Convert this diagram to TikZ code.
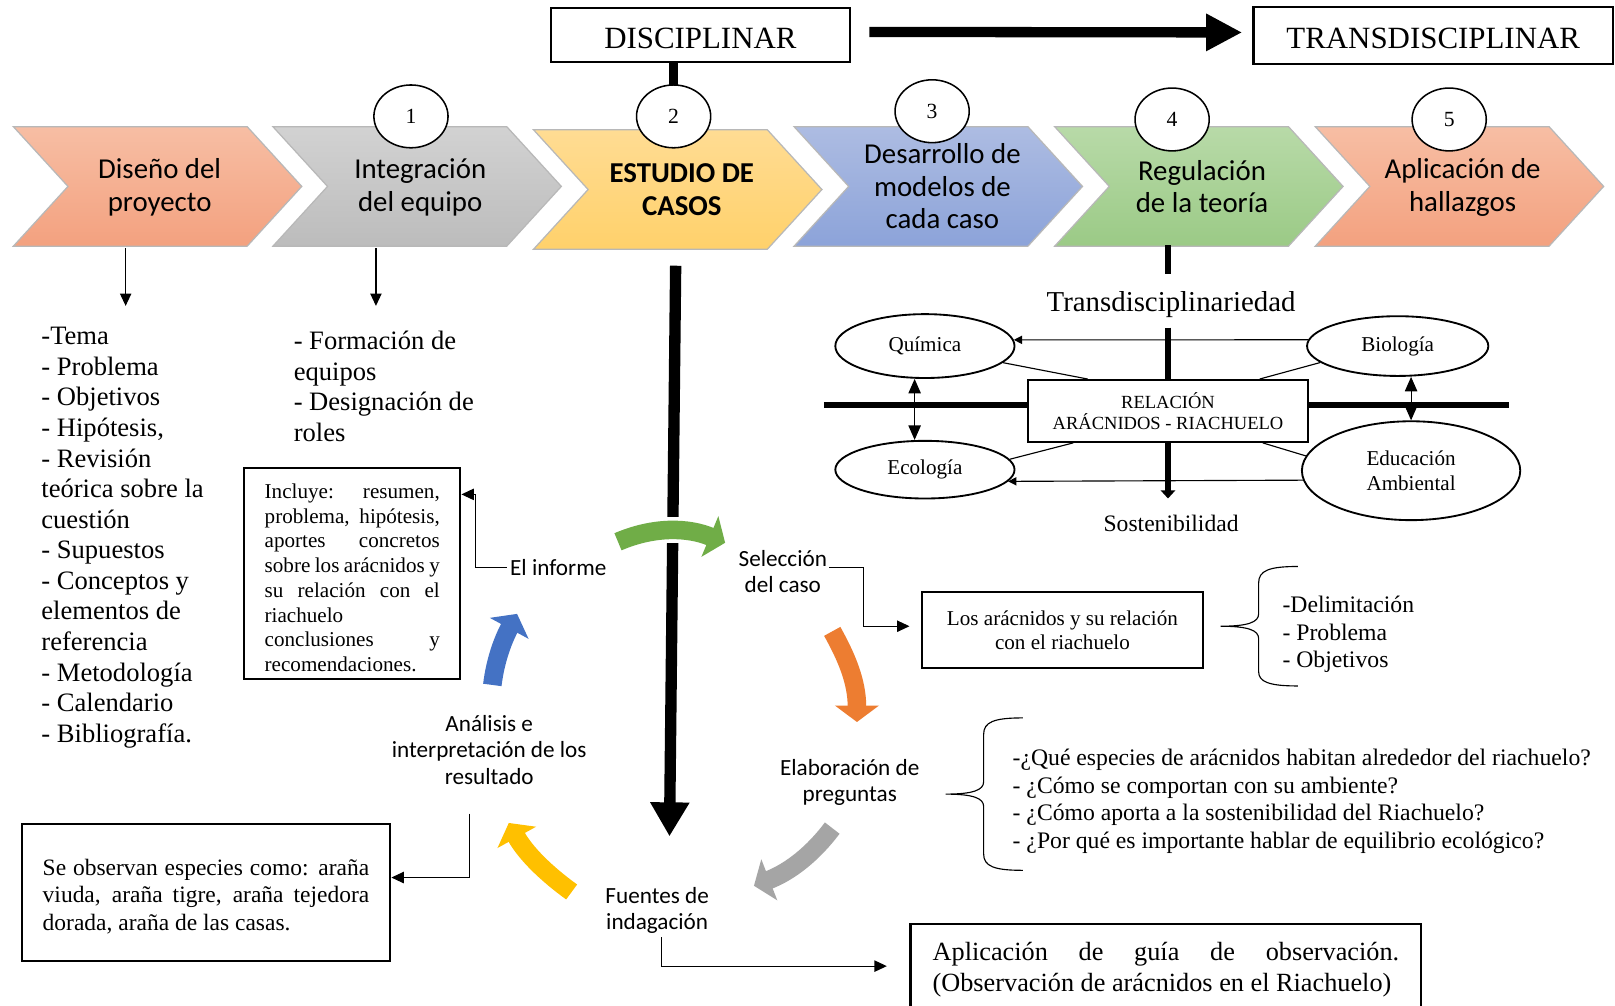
\documentclass[tikz,border=0pt]{standalone}
\usepackage{fontspec}
\setmainfont{Liberation Serif}
\newfontfamily\calfont{Carlito}
\usetikzlibrary{arrows.meta,shapes.geometric,calc}

\newcommand{\fsz}[2]{\fontsize{#1}{#2}\selectfont}
\newcommand{\spread}[2]{\makebox[#1][s]{#2}}

\definecolor{salT}{HTML}{F7BEA4}
\definecolor{salB}{HTML}{F3A17F}
\definecolor{gryT}{HTML}{D2D2D2}
\definecolor{gryB}{HTML}{BCBCBC}
\definecolor{ylwT}{HTML}{FFDC93}
\definecolor{ylwB}{HTML}{FFD16B}
\definecolor{bluT}{HTML}{ADBCE2}
\definecolor{bluB}{HTML}{8CA3D9}
\definecolor{grnT}{HTML}{B8DAA8}
\definecolor{grnB}{HTML}{9BCA86}
\definecolor{cgreen}{HTML}{70AD47}
\definecolor{corange}{HTML}{ED7D31}
\definecolor{cgray}{HTML}{A5A5A5}
\definecolor{cyellow}{HTML}{FFC000}
\definecolor{cblue}{HTML}{4472C4}

% one step of the process: a chevron at horizontal position #1, shifted down by #2
\newcommand{\chevron}[4]{%
  \path[draw=black!28, line width=1.2pt, top color=#3, bottom color=#4]
    (#1,123+#2) -- ++(227,0) -- ++(53,58) -- ++(-53,58) -- ++(-227,0) -- ++(53,-58) -- cycle;}

\begin{document}
\begin{tikzpicture}[x=1pt,y=-1pt,
  chevtext/.style={font=\calfont\fsz{28}{31.5}, align=center, inner sep=0},
  numcirc/.style={draw, line width=1.5pt, fill=white, ellipse, minimum width=72pt,
                  minimum height=61pt, inner sep=0, font=\fsz{21}{24}},
  labelc/.style={font=\calfont\fsz{22.5}{25.5}, align=center, inner sep=0},
  serifl/.style={font=\fsz{25.8}{29.7}, align=left, inner sep=0},
  box/.style={draw, line width=2pt, fill=white, inner sep=0},
  headbox/.style={box, font=\fsz{30}{32}, text height=26pt, text depth=0pt},
  thinarrow/.style={line width=1.1pt, -{Triangle[length=12pt,width=11pt]}},
  thinline/.style={line width=1.1pt},
  bigarrow/.style={line width=18pt, -{Triangle[length=16pt,width=42pt]}},
  clell/.style={draw, line width=1.8pt, ellipse, fill=white, inner sep=0,
                font=\fsz{20.5}{24}, align=center},
  smalltip/.style={-{Triangle[length=8pt,width=8pt]}},
  dbltip/.style={{Triangle[length=14pt,width=12pt]}-{Triangle[length=14pt,width=12pt]}}
]
\useasboundingbox (0,0) rectangle (1568,976);
\fill[white] (0,0) rectangle (1568,976);

% ---- header: disciplinary -> transdisciplinary
\node[headbox, minimum width=290pt, minimum height=52pt] (disc) at (680,34) {DISCIPLINAR};
\node[headbox, minimum width=349pt, minimum height=55pt] (trans) at (1391.5,34.5) {TRANSDISCIPLINAR};
\draw[line width=10pt, -{Triangle[length=35pt,width=34pt]}] ([xshift=18pt,yshift=3pt]disc.east) -- ([xshift=-10pt,yshift=3pt]trans.west);

% ---- process chevrons
\chevron{13}{0}{salT}{salB}
\chevron{265}{0}{gryT}{gryB}
\chevron{518}{3}{ylwT}{ylwB}
\chevron{771}{0}{bluT}{bluB}
\chevron{1024}{0}{grnT}{grnB}
\chevron{1277}{0}{salT}{salB}

\node[chevtext] (ch1) at (155,182) {Diseño del\\proyecto};
\node[chevtext] (ch2) at (408,182) {Integración\\del equipo};
\node[chevtext, font=\calfont\bfseries\fsz{28}{31.5}] (ch3) at (662,184) {ESTUDIO DE\\CASOS};
\node[chevtext] (ch4) at (915,181) {Desarrollo de\\modelos de\\cada caso};
\node[chevtext] (ch5) at (1167,181) {Regulación\\de la teoría};
\node[chevtext] (ch6) at (1420,182) {Aplicación de\\hallazgos};

\coordinate (c2top) at (654,100);
\draw[line width=9pt] (disc.south -| c2top) -- (c2top);

\node[numcirc] (n1) at (399,113) {1};
\node[numcirc] (n2) at (654,113) {2};
\node[numcirc] (n3) at (905,108) {3};
\node[numcirc] (n4) at (1138,116) {4};
\node[numcirc] (n5) at (1407,116) {5};

% ---- project design and team
\coordinate (d1a) at (122,241); \coordinate (d1b) at (122,297);
\coordinate (d2a) at (365,241); \coordinate (d2b) at (365,297);
\draw[thinarrow] (d1a) -- (d1b);
\draw[thinarrow] (d2a) -- (d2b);

\node[serifl, anchor=west] (designlist) at (40,522) {-Tema\\- Problema\\- Objetivos\\- Hipótesis,\\- Revisión\\teórica sobre la\\cuestión\\- Supuestos\\- Conceptos y\\elementos de\\referencia\\- Metodología\\- Calendario\\- Bibliografía.};
\node[serifl, anchor=west] (teamlist) at (285,375) {- Formación de\\equipos\\- Designación de\\roles};

% ---- case study cycle
\coordinate (spineTop) at (656,258);
\coordinate (spineEnd) at (650,812);
\draw[line width=11pt, -{Triangle[length=33pt,width=36pt]}] (spineTop) -- (spineEnd);

\draw[white, line width=25pt, shorten >=15pt] (600,526) .. controls (635,511) and (668,512) .. (704,527);
\draw[bigarrow, cgreen] (600,526) .. controls (635,511) and (668,512) .. (704,527);
\draw[bigarrow, corange] (808,613) .. controls (822,638) and (832,662) .. (832,701);
\draw[bigarrow, cgray] (808,804) .. controls (790,828) and (768,846) .. (732,860);
\draw[bigarrow, cyellow] (555,866) .. controls (530,848) and (510,828) .. (494,799);
\draw[bigarrow, cblue] (478,665) .. controls (481,640) and (489,620) .. (502,596);

\node[labelc] (inf) at (542,551) {El informe};
\node[labelc] (sel) at (760,555) {Selección\\del caso};
\node[labelc] (elab) at (825,760) {Elaboración de\\preguntas};
\node[labelc] (fuen) at (638,884) {Fuentes de\\indagación};
\node[labelc] (anal) at (475,728) {Análisis e\\interpretación de los\\resultado};

\node[box, minimum width=210pt, minimum height=205pt] (incl) at (342,557) {};
\node[font=\fsz{20.5}{24}, align=left, inner sep=0] (incltext) at (342,561)
  {\spread{170pt}{Incluye: resumen,}\\\spread{170pt}{problema, hipótesis,}\\\spread{170pt}{aportes concretos}\\\spread{170pt}{sobre los arácnidos y}\\\spread{170pt}{su relación con el}\\riachuelo\\\spread{170pt}{conclusiones y}\\recomendaciones.};

\node[box, minimum width=273pt, minimum height=74pt, font=\fsz{20.5}{23}, align=center] (arac) at (1031.5,612)
  {Los arácnidos y su relación\\con el riachuelo};

\node[box, minimum width=358pt, minimum height=133pt] (obs) at (200,866.5) {};
\node[font=\fsz{22.8}{26.5}, align=left, inner sep=0] (obstext) at (200,870.5)
  {\spread{317pt}{Se observan especies como: araña}\\\spread{317pt}{viuda, araña tigre, araña tejedora}\\dorada, araña de las casas.};

\node[box, minimum width=496pt, minimum height=88pt, font=\fsz{25.5}{30}, align=left] (apl) at (1132,941.5)
  {\spread{453pt}{Aplicación de guía de observación.}\\(Observación de arácnidos en el Riachuelo)};

% connectors from the cycle labels
\coordinate (iA) at (462,551); \coordinate (iB) at (462,480);
\draw[thinarrow] ([xshift=-3pt]inf.west) -- (iA) -- (iB) -- (incl.east |- iB);

\coordinate (sA) at (838,551); \coordinate (sB) at (838,608);
\draw[thinarrow] ([xshift=2pt]sel.east |- sA) -- (sA) -- (sB) -- ([xshift=-11pt]arac.west |- sB);

\coordinate (aT) at (456,790); \coordinate (aA) at (456,852);
\draw[thinarrow] (aT) -- (aA) -- (obs.east |- aA);

\coordinate (fT) at (642,910); \coordinate (fA) at (642,938);
\draw[thinarrow] (fT) -- (fA) -- ([xshift=-22pt]apl.west |- fA);

% braces and their lists
\draw[line width=1.1pt] (1260,550) .. controls (1232,550) and (1222,554) .. (1222,566) -- (1222,596)
  .. controls (1222,604) and (1212,608) .. (1185,608) .. controls (1212,608) and (1222,612) .. (1222,620)
  -- (1222,652) .. controls (1222,662) and (1232,666) .. (1260,666);
\node[font=\fsz{23}{27}, align=left, inner sep=0, anchor=west] (delim) at (1245,616)
  {-Delimitación\\- Problema\\- Objetivos};

\draw[line width=1.1pt] (993,697) .. controls (965,697) and (955,701) .. (955,713) -- (955,759)
  .. controls (955,767) and (945,771) .. (918,771) .. controls (945,771) and (955,775) .. (955,783)
  -- (955,829) .. controls (955,841) and (965,845) .. (993,845);
\node[font=\fsz{23}{27}, align=left, inner sep=0, anchor=west] (quest) at (983,778)
  {-¿Qué especies de arácnidos habitan alrededor del riachuelo?\\- ¿Cómo se comportan con su ambiente?\\- ¿Cómo aporta a la sostenibilidad del Riachuelo?\\- ¿Por qué es importante hablar de equilibrio ecológico?};

% ---- transdisciplinarity cluster
\node[font=\fsz{28}{30}, inner sep=0] (transd) at (1137,296) {Transdisciplinariedad};
\node[font=\fsz{22.9}{26}, inner sep=0] (sost) at (1137,508) {Sostenibilidad};
\coordinate (vA) at (1134,238); \coordinate (vB) at (1134,266);
\coordinate (vC) at (1134,318); \coordinate (vD) at (1134,484);
\coordinate (hA) at (800,393); \coordinate (hB) at (1465,393);
\draw[line width=6pt] (vA) -- (vB);
\draw[line width=6pt, -{Triangle[length=8pt,width=14pt]}] (vC) -- (vD);
\draw[line width=6pt] (hA) -- (hB);

\node[box, minimum width=272pt, minimum height=60pt, font=\fsz{18}{21}, align=center] (rel) at (1134,399)
  {RELACIÓN\\ARÁCNIDOS - RIACHUELO};

\node[clell, minimum width=174pt, minimum height=62pt] (quim) at (898,336) {Química};
\node[clell, minimum width=176pt, minimum height=58pt] (bio) at (1357,336) {Biología};
\node[clell, minimum width=174pt, minimum height=56pt] (eco) at (898,456) {Ecología};
\node[clell, minimum width=212pt, minimum height=96pt] (edu) at (1370,457) {Educación\\Ambiental};

\draw[thinline, smalltip] (bio.176) -- (quim.4);
\draw[thinline, smalltip] (edu.185) -- (eco.-8);
\draw[thinline] (quim.-12) -- ([xshift=59pt]rel.north west);
\draw[thinline] (bio.192) -- ([xshift=-48pt]rel.north east);
\draw[thinline] (eco.7) -- ([xshift=45pt]rel.south west);
\draw[thinline] (edu.172) -- ([xshift=-45pt]rel.south east);
\draw[line width=1.1pt, dbltip] ([xshift=-10pt]quim.south) -- ([xshift=-10pt]eco.north);
\draw[line width=1.1pt, dbltip] (bio.south -| edu.north) -- (edu.north);
\end{tikzpicture}
\end{document}
